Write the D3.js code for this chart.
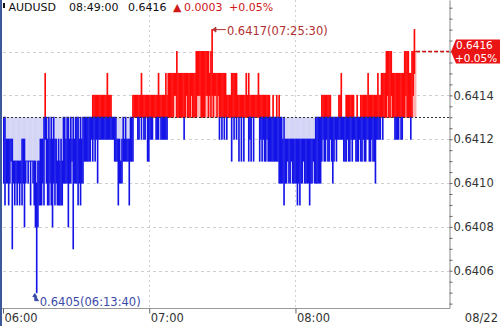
<!DOCTYPE html>
<html>
<head>
<meta charset="utf-8">
<script src="https://cdn.jsdelivr.net/npm/d3@7"></script>
<style>
body{margin:0;background:#fff;}
svg{display:block;font-family:"DejaVu Sans",sans-serif;}
</style>
</head>
<body>
<script>
// AUDUSD tick chart: high / low of each 30 second bucket from 06:00:00
const symbol = "AUDUSD";
const sessionDay = "2019-08-22";
const startTime = "06:00:00", endTime = "09:03:00";
const bucketSeconds = 30;
const prevClose = 0.6413;
const lastPrice = 0.6416;
const bucketHigh = [
	0.6413,0.6413,0.6412,0.6412,0.6412,0.6412,0.6412,0.6412,0.6411,0.6411,0.6411,0.6411,0.6411,0.6411,0.6411,0.6412,0.6412,0.6412,0.6411,0.6411,
	0.6411,0.6411,0.6411,0.6411,0.6411,0.6411,0.6411,0.6410,0.6411,0.6411,0.6412,0.6412,0.6412,0.6413,0.6415,0.6413,0.6412,0.6413,0.6412,0.6413,
	0.6412,0.6413,0.6412,0.6412,0.6411,0.6412,0.6411,0.6412,0.6411,0.6413,0.6413,0.6412,0.6413,0.6413,0.6412,0.6413,0.6412,0.6413,0.6412,0.6413,
	0.6413,0.6413,0.6412,0.6413,0.6412,0.6413,0.6413,0.6413,0.6413,0.6413,0.6413,0.6413,0.6413,0.6414,0.6414,0.6414,0.6414,0.6414,0.6414,0.6414,
	0.6414,0.6414,0.6414,0.6414,0.6414,0.6415,0.6414,0.6414,0.6414,0.6413,0.6413,0.6413,0.6413,0.6412,0.6412,0.6412,0.6411,0.6412,0.6413,0.6412,
	0.6413,0.6412,0.6412,0.6412,0.6413,0.6413,0.6414,0.6414,0.6414,0.6414,0.6414,0.6414,0.6414,0.6415,0.6414,0.6414,0.6414,0.6414,0.6414,0.6414,
	0.6414,0.6414,0.6414,0.6414,0.6414,0.6414,0.6414,0.6415,0.6414,0.6414,0.6414,0.6414,0.6414,0.6415,0.6414,0.6415,0.6415,0.6415,0.6415,0.6415,
	0.6415,0.6415,0.6416,0.6415,0.6415,0.6415,0.6415,0.6415,0.6415,0.6415,0.6415,0.6415,0.6415,0.6415,0.6415,0.6415,0.6415,0.6415,0.6416,0.6416,
	0.6416,0.6416,0.6416,0.6416,0.6416,0.6416,0.6416,0.6416,0.6416,0.6415,0.6416,0.6417,0.6415,0.6415,0.6415,0.6415,0.6415,0.6415,0.6415,0.6415,
	0.6415,0.6415,0.6415,0.6414,0.6414,0.6414,0.6414,0.6415,0.6415,0.6415,0.6415,0.6415,0.6414,0.6414,0.6414,0.6414,0.6414,0.6414,0.6414,0.6415,
	0.6414,0.6415,0.6414,0.6414,0.6414,0.6414,0.6414,0.6414,0.6414,0.6415,0.6414,0.6414,0.6414,0.6414,0.6414,0.6414,0.6414,0.6414,0.6414,0.6413,
	0.6413,0.6414,0.6413,0.6413,0.6414,0.6413,0.6414,0.6413,0.6413,0.6412,0.6413,0.6412,0.6412,0.6412,0.6412,0.6412,0.6412,0.6412,0.6412,0.6412,
	0.6412,0.6412,0.6412,0.6412,0.6412,0.6412,0.6412,0.6412,0.6412,0.6412,0.6412,0.6412,0.6412,0.6412,0.6412,0.6412,0.6413,0.6413,0.6413,0.6413,
	0.6413,0.6414,0.6414,0.6414,0.6414,0.6414,0.6414,0.6414,0.6414,0.6413,0.6413,0.6413,0.6413,0.6413,0.6413,0.6414,0.6414,0.6415,0.6413,0.6413,
	0.6413,0.6414,0.6414,0.6414,0.6414,0.6414,0.6414,0.6414,0.6413,0.6413,0.6414,0.6413,0.6413,0.6414,0.6414,0.6414,0.6414,0.6414,0.6414,0.6415,
	0.6414,0.6414,0.6414,0.6414,0.6414,0.6414,0.6414,0.6415,0.6414,0.6414,0.6415,0.6415,0.6415,0.6415,0.6416,0.6416,0.6416,0.6416,0.6416,0.6415,
	0.6415,0.6415,0.6415,0.6415,0.6415,0.6415,0.6415,0.6415,0.6415,0.6416,0.6416,0.6416,0.6416,0.6415,0.6415,0.6416,0.6416,0.6417,0.6416
];
const bucketLow = [
	0.6410,0.6409,0.6410,0.6410,0.6409,0.6410,0.6411,0.6407,0.6410,0.6409,0.6410,0.6409,0.6410,0.6409,0.6410,0.6409,0.6410,0.6408,0.6410,0.6411,
	0.6410,0.6411,0.6409,0.6411,0.6410,0.6409,0.6408,0.6405,0.6408,0.6409,0.6409,0.6409,0.6410,0.6409,0.6412,0.6410,0.6409,0.6409,0.6410,0.6409,
	0.6408,0.6410,0.6409,0.6410,0.6409,0.6409,0.6409,0.6409,0.6409,0.6410,0.6410,0.6410,0.6410,0.6408,0.6410,0.6410,0.6411,0.6407,0.6410,0.6410,
	0.6410,0.6409,0.6410,0.6409,0.6410,0.6410,0.6411,0.6411,0.6411,0.6411,0.6411,0.6411,0.6412,0.6411,0.6412,0.6411,0.6412,0.6410,0.6412,0.6412,
	0.6412,0.6412,0.6412,0.6412,0.6412,0.6412,0.6412,0.6412,0.6412,0.6412,0.6412,0.6411,0.6411,0.6411,0.6409,0.6410,0.6410,0.6410,0.6411,0.6411,
	0.6411,0.6411,0.6411,0.6409,0.6411,0.6411,0.6411,0.6413,0.6413,0.6413,0.6412,0.6412,0.6413,0.6412,0.6413,0.6412,0.6412,0.6413,0.6411,0.6411,
	0.6412,0.6412,0.6412,0.6413,0.6413,0.6412,0.6412,0.6412,0.6413,0.6412,0.6412,0.6412,0.6412,0.6412,0.6412,0.6413,0.6413,0.6413,0.6413,0.6413,
	0.6414,0.6414,0.6413,0.6413,0.6413,0.6413,0.6413,0.6413,0.6412,0.6413,0.6414,0.6413,0.6413,0.6413,0.6414,0.6413,0.6413,0.6413,0.6413,0.6414,
	0.6414,0.6414,0.6413,0.6413,0.6413,0.6413,0.6414,0.6414,0.6413,0.6414,0.6413,0.6414,0.6413,0.6414,0.6414,0.6413,0.6414,0.6412,0.6413,0.6412,
	0.6413,0.6412,0.6413,0.6412,0.6413,0.6413,0.6413,0.6411,0.6413,0.6412,0.6413,0.6412,0.6413,0.6411,0.6413,0.6411,0.6413,0.6411,0.6413,0.6413,
	0.6413,0.6411,0.6412,0.6411,0.6413,0.6411,0.6413,0.6413,0.6413,0.6413,0.6411,0.6412,0.6411,0.6412,0.6411,0.6411,0.6412,0.6411,0.6411,0.6411,
	0.6411,0.6411,0.6411,0.6411,0.6411,0.6411,0.6410,0.6410,0.6410,0.6410,0.6409,0.6410,0.6410,0.6411,0.6410,0.6410,0.6411,0.6410,0.6410,0.6410,
	0.6410,0.6409,0.6410,0.6409,0.6410,0.6410,0.6411,0.6410,0.6410,0.6410,0.6410,0.6409,0.6410,0.6410,0.6411,0.6410,0.6410,0.6410,0.6410,0.6410,
	0.6410,0.6411,0.6412,0.6411,0.6411,0.6412,0.6411,0.6411,0.6412,0.6411,0.6410,0.6411,0.6412,0.6411,0.6412,0.6412,0.6412,0.6412,0.6412,0.6411,
	0.6411,0.6411,0.6412,0.6411,0.6411,0.6412,0.6411,0.6412,0.6412,0.6411,0.6411,0.6411,0.6412,0.6411,0.6411,0.6412,0.6411,0.6411,0.6412,0.6412,
	0.6411,0.6411,0.6412,0.6411,0.6411,0.6410,0.6412,0.6412,0.6412,0.6412,0.6413,0.6412,0.6413,0.6413,0.6413,0.6414,0.6413,0.6413,0.6414,0.6413,
	0.6413,0.6412,0.6412,0.6412,0.6412,0.6413,0.6412,0.6412,0.6413,0.6413,0.6414,0.6413,0.6413,0.6413,0.6412,0.6413,0.6414,0.6415,0.6416
];
const gridValues = [0.6406, 0.6408, 0.6410, 0.6412, 0.6414, 0.6416];
const axisLabelValues = [0.6406, 0.6408, 0.6410, 0.6412, 0.6414];
const xTickLabels = ["06:00:00", "07:00:00", "08:00:00"];
const dateLabel = "08/22";
const highMark = ["07:25:30", 0.6417];
const lowMark = ["06:13:40", 0.6405];

const svg_width = 500, svg_height = 326;
const plot_left = 3, plot_right = 449, plot_top = 0, plot_bottom = 308;
const red = "#ff0a0a", blue = "#1414e8", pink = "#ffb4b4", lavender = "#d4d4f6";

var parseTime = d3.timeParse("%Y-%m-%d %H:%M:%S");
function toDate(s){ return parseTime(sessionDay + " " + s); }
var t0 = toDate(startTime);
var buckets = bucketHigh.map(function(h, i){
	return {t: new Date(t0.getTime() + i*bucketSeconds*1000),
			t1: new Date(t0.getTime() + (i+1)*bucketSeconds*1000),
			hi: h, lo: bucketLow[i]};
});
var lastBucket = buckets[buckets.length-1];

var x = d3.scaleTime().domain([t0, toDate(endTime)]).range([plot_left, plot_right]);
var y = d3.scaleLinear().domain([0.64043, 0.641835]).range([plot_bottom, plot_top]);
var fmt4 = d3.format(".4f");
var yBase = y(prevClose);

var svg = d3.select("body").append("svg")
	.attr("width", svg_width)
	.attr("height", svg_height);

// grid
var grid = svg.append("g");
grid.selectAll("line.h").data(gridValues).enter().append("line")
	.attr("x1", plot_left).attr("x2", plot_right)
	.attr("y1", function(d){ return Math.round(y(d)) + 0.5; })
	.attr("y2", function(d){ return Math.round(y(d)) + 0.5; })
	.attr("stroke", "#cfcfcf").attr("stroke-dasharray", "3,3");
grid.selectAll("line.v").data(xTickLabels.slice(1)).enter().append("line")
	.attr("x1", function(d){ return Math.round(x(toDate(d))) + 0.5; })
	.attr("x2", function(d){ return Math.round(x(toDate(d))) + 0.5; })
	.attr("y1", plot_top).attr("y2", plot_bottom)
	.attr("stroke", "#cfcfcf").attr("stroke-dasharray", "2,3");

// price bars: light fill from the previous close, strong colour over the bucket range
function bw(d){ return x(d.t1) - x(d.t) + 0.35; }
var bars = svg.append("g");
bars.selectAll("rect.up").data(buckets.filter(function(d){ return d.hi > prevClose; })).enter().append("rect")
	.attr("x", function(d){ return x(d.t); }).attr("width", bw)
	.attr("y", function(d){ return y(d.hi); })
	.attr("height", function(d){ return yBase - y(d.hi); })
	.attr("fill", pink);
bars.selectAll("rect.dn").data(buckets.filter(function(d){ return d.lo < prevClose; })).enter().append("rect")
	.attr("x", function(d){ return x(d.t); }).attr("width", bw)
	.attr("y", yBase)
	.attr("height", function(d){ return y(d.lo) - yBase; })
	.attr("fill", lavender);
bars.selectAll("rect.r").data(buckets.filter(function(d){ return d.hi > prevClose; })).enter().append("rect")
	.attr("x", function(d){ return x(d.t); }).attr("width", bw)
	.attr("y", function(d){ return y(d.hi) - 0.5; })
	.attr("height", function(d){ return y(Math.max(d.lo, prevClose)) - y(d.hi) + 1; })
	.attr("fill", red);
bars.selectAll("rect.b").data(buckets.filter(function(d){ return d.lo < prevClose; })).enter().append("rect")
	.attr("x", function(d){ return x(d.t); }).attr("width", bw)
	.attr("y", function(d){ return y(Math.min(d.hi, prevClose)) - 0.5; })
	.attr("height", function(d){ return y(d.lo) - y(Math.min(d.hi, prevClose)) + 1; })
	.attr("fill", blue);

// previous close line
svg.append("line")
	.attr("x1", plot_left).attr("x2", plot_right)
	.attr("y1", Math.round(yBase) + 0.5).attr("y2", Math.round(yBase) + 0.5)
	.attr("stroke", "#333").attr("stroke-dasharray", "2,2");

// last price dashed line
svg.append("line")
	.attr("x1", x(lastBucket.t1)).attr("x2", plot_right)
	.attr("y1", y(lastPrice)).attr("y2", y(lastPrice))
	.attr("stroke", "#d01010").attr("stroke-width", 1.5).attr("stroke-dasharray", "4,2");

// high / low annotations
var hx = x(toDate(highMark[0])) + 0.5, hy = y(highMark[1]);
var ann = svg.append("g").attr("font-size", "11.5px");
ann.append("path")
	.attr("d", "M" + (hx+1) + "," + hy + "H" + (hx+14) + "M" + (hx+1) + "," + hy + "l3,-2.5v5z")
	.attr("stroke", "#b03030").attr("fill", "#b03030");
ann.append("text").attr("x", hx + 15).attr("y", hy + 5)
	.attr("fill", "#b03030")
	.text(fmt4(highMark[1]) + "(" + highMark[0] + ")");

var lx = x(toDate(lowMark[0])) - 1.5, ly = y(lowMark[1]);
ann.append("path")
	.attr("d", "M" + lx + "," + (ly+1) + "V" + (ly+8) + "H" + (lx+4) + "M" + lx + "," + (ly+1) + "l-2,3h4z")
	.attr("stroke", "#3a4aa8").attr("fill", "#3a4aa8");
ann.append("text").attr("x", lx + 5).attr("y", ly + 13)
	.attr("fill", "#3a4aa8")
	.text(fmt4(lowMark[1]) + "(" + lowMark[0] + ")");

// right axis
var minorTicks = d3.range(29).map(function(i){ return 0.64045 + i*0.00005; });
var yAxis = svg.append("g")
	.attr("transform", "translate(" + (plot_right + 0.5) + ",0)")
	.call(d3.axisRight(y).tickValues(minorTicks).tickSize(3).tickSizeOuter(0)
		.tickFormat(function(d){
			return axisLabelValues.some(function(v){ return Math.abs(v - d) < 1e-7; }) ? fmt4(d) : "";
		}));
yAxis.select(".domain").attr("stroke", "#888");
yAxis.selectAll(".tick line").attr("stroke", "#666");
yAxis.selectAll("text").attr("x", 4).attr("font-size", "11.5px")
	.attr("font-family", "DejaVu Sans").attr("fill", "#333");

// bottom axis
svg.append("line")
	.attr("x1", 0).attr("x2", plot_right + 1)
	.attr("y1", plot_bottom + 0.5).attr("y2", plot_bottom + 0.5)
	.attr("stroke", "#999");
var xAxis = svg.append("g")
	.attr("transform", "translate(0," + (plot_bottom + 0.5) + ")")
	.call(d3.axisBottom(x).tickValues(xTickLabels.map(toDate)).tickSize(5)
		.tickFormat(d3.timeFormat("%H:%M")));
xAxis.select(".domain").remove();
xAxis.selectAll(".tick line").attr("stroke", "#666");
xAxis.selectAll("text").attr("text-anchor", "start").attr("x", 1).attr("y", 13).attr("dy", 0)
	.attr("font-size", "11.5px").attr("font-family", "DejaVu Sans").attr("fill", "#333");
svg.append("text").attr("x", 498).attr("y", 321.5)
	.attr("text-anchor", "end").attr("font-size", "11.5px").attr("fill", "#333")
	.text(dateLabel);

// last price tag
var ty = y(lastPrice);
var change = lastPrice - prevClose;
var pct = d3.format("+.2f")(change / prevClose * 100) + "%";
svg.append("path")
	.attr("d", "M451," + ty + "L456," + (ty-12) + "H500V" + (ty+12) + "H456Z")
	.attr("fill", "#ea1414");
svg.append("text").attr("x", 456).attr("y", ty - 2.5).attr("fill", "#fff")
	.attr("font-size", "10.5px").text(fmt4(lastPrice));
svg.append("text").attr("x", 455).attr("y", ty + 10).attr("fill", "#fff")
	.attr("font-size", "10.5px").text(pct);

// header
var head = svg.append("g").attr("font-size", "11px");
head.append("rect").attr("x", 3).attr("y", 3).attr("width", 2).attr("height", 5).attr("fill", "#111");
head.append("text").attr("x", 8.5).attr("y", 10.5).attr("fill", "#111").text(symbol);
head.append("text").attr("x", 69).attr("y", 10.5).attr("fill", "#111").text(d3.timeFormat("%H:%M:%S")(lastBucket.t));
head.append("text").attr("x", 128).attr("y", 10.5).attr("fill", "#111").text(fmt4(lastPrice));
head.append("text").attr("x", 173).attr("y", 10.5).attr("fill", "#d01818").text("▲");
head.append("text").attr("x", 184).attr("y", 10.5).attr("fill", "#d01818").text(fmt4(Math.abs(change)));
head.append("text").attr("x", 229).attr("y", 10.5).attr("fill", "#d01818").text(pct);

// window edge
svg.append("rect").attr("x", 0).attr("y", 0).attr("width", 2).attr("height", svg_height).attr("fill", "#3c5a9a");
</script>
</body>
</html>
